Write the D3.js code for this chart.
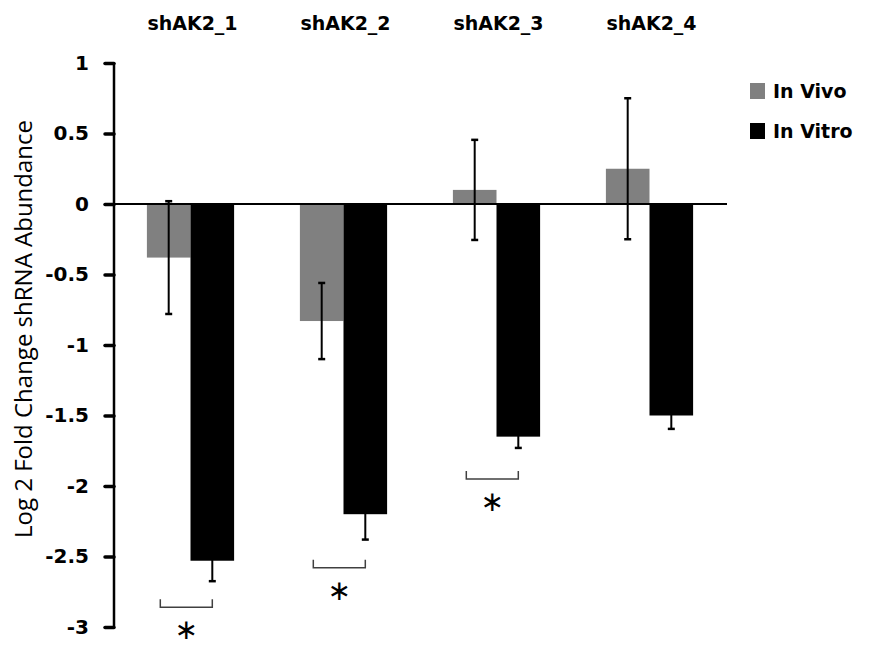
<!DOCTYPE html>
<html>
<head>
<meta charset="utf-8">
<script src="https://cdn.jsdelivr.net/npm/d3@7"></script>
<style>
  body { margin: 0; background: #fff; }
  text { font-family: 'DejaVu Sans', sans-serif; }
</style>
</head>
<body>
<div id="chart"></div>
<script>
// Data
const categories = ['shAK2_1', 'shAK2_2', 'shAK2_3', 'shAK2_4'];
const seriesNames = ['In Vivo', 'In Vitro'];
const inVivo = [-0.38, -0.83, 0.10, 0.25];
const inVivoErr = [0.40, 0.27, 0.355, 0.50];
const inVitro = [-2.53, -2.20, -1.65, -1.50];
const inVitroErr = [0.145, 0.18, 0.08, 0.095];
const yTicks = [1, 0.5, 0, -0.5, -1, -1.5, -2, -2.5, -3];
// significance brackets: group index and level of the bracket's bottom line
const sigGroups = [0, 1, 2];
const sigLevels = [-2.86, -2.58, -1.95];

const colors = { 'In Vivo': '#808080', 'In Vitro': '#000000' };

const W = 870, H = 646;
const svg = d3.select('#chart').append('svg')
    .attr('width', W)
    .attr('height', H);

// Scales
const x = d3.scaleBand()
    .domain(categories)
    .range([114, 726])
    .paddingInner(0.43)
    .paddingOuter(0.215);

const xSub = d3.scaleBand()
    .domain(seriesNames)
    .range([0, x.bandwidth()]);

const y = d3.scaleLinear()
    .domain([-3, 1])
    .range([627, 63]);

// Build rows for bars
const rows = [];
categories.forEach((c, i) => {
    rows.push({ cat: c, series: 'In Vivo', value: inVivo[i], err: inVivoErr[i] });
    rows.push({ cat: c, series: 'In Vitro', value: inVitro[i], err: inVitroErr[i] });
});

// Bars
svg.append('g').selectAll('rect')
    .data(rows)
    .enter().append('rect')
    .attr('x', d => x(d.cat) + xSub(d.series))
    .attr('y', d => y(Math.max(0, d.value)))
    .attr('width', xSub.bandwidth())
    .attr('height', d => Math.abs(y(d.value) - y(0)))
    .attr('fill', d => colors[d.series]);

// Error bars
const capW = 7;
const eb = svg.append('g')
    .attr('stroke', '#000')
    .attr('stroke-width', 2);
rows.forEach(d => {
    const cx = x(d.cat) + xSub(d.series) + xSub.bandwidth() / 2;
    const yTop = y(d.value + d.err);
    const yBot = y(d.value - d.err);
    eb.append('line').attr('x1', cx).attr('x2', cx).attr('y1', yTop).attr('y2', yBot);
    eb.append('line').attr('x1', cx - capW / 2).attr('x2', cx + capW / 2).attr('y1', yTop).attr('y2', yTop).attr('stroke-width', 2.5);
    eb.append('line').attr('x1', cx - capW / 2).attr('x2', cx + capW / 2).attr('y1', yBot).attr('y2', yBot).attr('stroke-width', 2.5);
});

// Y axis
const yAxis = d3.axisLeft(y)
    .tickValues(yTicks)
    .tickSize(9)
    .tickPadding(16)
    .tickFormat(d => d);
const gy = svg.append('g')
    .attr('transform', 'translate(114,0)')
    .call(yAxis);
gy.select('.domain').attr('stroke-width', 2.5).attr('d', `M0,${y(-3)}V${y(1)}`);
gy.selectAll('.tick line').attr('stroke-width', 3.5).attr('stroke-linecap', 'round');
gy.selectAll('.tick text')
    .style('font-family', "'DejaVu Sans', sans-serif")
    .style('font-size', '20px')
    .style('font-weight', 'bold')
    .attr('fill', '#000');

// Zero line
svg.append('line')
    .attr('x1', 114).attr('x2', 727)
    .attr('y1', y(0)).attr('y2', y(0))
    .attr('stroke', '#000')
    .attr('stroke-width', 2);

// Category labels on top
svg.append('g').selectAll('text')
    .data(categories)
    .enter().append('text')
    .attr('x', d => x(d) + x.bandwidth() / 2 + 2)
    .attr('y', 30)
    .attr('text-anchor', 'middle')
    .style('font-size', '19px')
    .style('font-weight', 'bold')
    .text(d => d);

// Y axis title
svg.append('text')
    .attr('transform', 'translate(32, 329) rotate(-90)')
    .attr('text-anchor', 'middle')
    .style('font-family', "'Open Sans', sans-serif")
    .style('font-size', '24px')
    .text('Log 2 Fold Change shRNA Abundance');

// Significance brackets
const br = svg.append('g');
sigGroups.forEach((gi, k) => {
    const cat = categories[gi];
    const right = x(cat) + xSub('In Vitro') + xSub.bandwidth() / 2;
    const left = right - 52;
    const yb = y(sigLevels[k]);
    br.append('path')
        .attr('d', `M${left},${yb - 8}V${yb}H${right}V${yb - 8}`)
        .attr('fill', 'none')
        .attr('stroke', '#404040')
        .attr('stroke-width', 1.5);
    br.append('text')
        .attr('x', (left + right) / 2)
        .attr('y', yb + 32)
        .attr('text-anchor', 'middle')
        .style('font-size', '28px')
        .text('\u2217');
});

// Legend
const legend = svg.append('g');
seriesNames.forEach((s, i) => {
    const ly = 91 + i * 40;
    legend.append('rect')
        .attr('x', 750).attr('y', ly - 8)
        .attr('width', 15).attr('height', 16)
        .attr('fill', colors[s]);
    legend.append('text')
        .attr('x', 773).attr('y', ly + 7)
        .style('font-size', '19px')
        .style('font-weight', 'bold')
        .text(s);
});
</script>
</body>
</html>
